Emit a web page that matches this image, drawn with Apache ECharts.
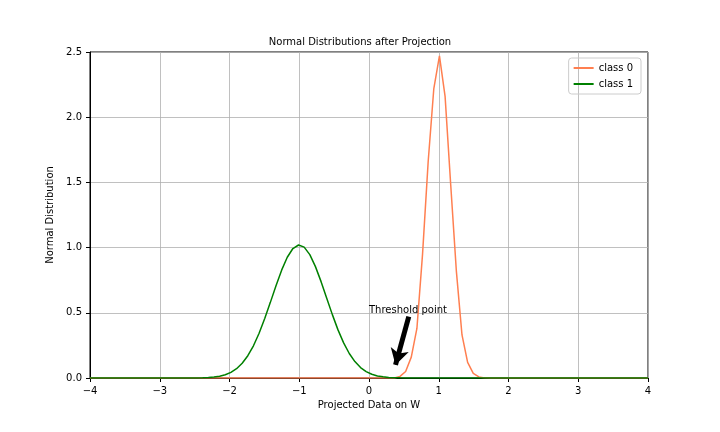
<!DOCTYPE html>
<html><head><meta charset="utf-8">
<script src="https://cdn.jsdelivr.net/npm/echarts@6/dist/echarts.min.js"></script>
<style>body{margin:0}#c{width:720px;height:432px}</style></head>
<body><div id="c"></div>
<script>
const N = 100, xMin = -4, xMax = 4;
// class 0 values at sample indices 55..70 (others ~0)
const class0Start = 55;
const class0Vals = [0.012,0.05,0.16,0.38,0.95,1.66,2.22,2.47,2.16,1.48,0.82,0.33,0.12,0.035,0.008,0.001];
// class 1 values at sample indices 17..56 (others ~0)
const class1Start = 17;
const class1Vals = [0.0002,0.0004,0.0009,0.0019,0.0038,0.0075,0.014,0.025,0.043,0.071,0.113,0.171,0.247,0.343,0.456,0.580,0.708,0.827,0.926,0.993,1.02,1.004,0.946,0.854,0.739,0.612,0.486,0.369,0.269,0.188,0.126,0.080,0.049,0.029,0.016,0.0088,0.0045,0.0022,0.001,0.0005];
const seriesNames = ['class 0','class 1'];
const annText = 'Threshold point';
const annTextAt = [0, 0.52];
const arrowFrom = [0.57, 0.47];
const arrowTo = [0.38, 0.1];

const xs = []; for (let i=0;i<N;i++) xs.push(xMin + (xMax-xMin)*i/(N-1));
function build(start, vals){ return xs.map((x,i)=>{const j=i-start; return [x, (j>=0&&j<vals.length)?vals[j]:0];}); }
const d0 = build(class0Start, class0Vals), d1 = build(class1Start, class1Vals);

const chart = echarts.init(document.getElementById('c'));
const font = 'DejaVu Sans';
function axisCommon(fmt){ return {axisLine:{onZero:false,lineStyle:{color:'#000'}},axisTick:{inside:false,length:4,lineStyle:{color:'#000'}},
  axisLabel:{color:'#000',fontSize:10,fontFamily:font,formatter:fmt},splitLine:{show:true,lineStyle:{color:'#b0b0b0',width:0.8}},
  nameTextStyle:{color:'#000',fontSize:10,fontFamily:font}}; }
chart.setOption({
  animation:false,
  title:{text:'Normal Distributions after Projection',left:'center',top:32,textStyle:{fontSize:10,fontWeight:'normal',color:'#000',fontFamily:font}},
  legend:{right:79,top:58,orient:'vertical',itemWidth:20,itemHeight:2,itemGap:6,padding:[5,8,5,5],
    borderColor:'#ccc',borderWidth:1,borderRadius:3,textStyle:{fontSize:10,color:'#000',fontFamily:font},
    data:seriesNames.map(n=>({name:n,icon:'rect'}))},
  grid:{left:90,right:72,top:52,bottom:54,show:true,borderColor:'#000',borderWidth:1},
  xAxis:Object.assign({type:'value',min:xMin,max:xMax,interval:1,name:'Projected Data on W',nameLocation:'middle',nameGap:20},
    axisCommon(v=>String(v).replace('-','\u2212'))),
  yAxis:Object.assign({type:'value',min:0,max:2.5,interval:0.5,name:'Normal Distribution',nameLocation:'middle',nameGap:30},
    axisCommon(v=>v.toFixed(1))),
  series:[
    {name:seriesNames[0],type:'line',data:d0,showSymbol:false,lineStyle:{color:'#ff7f50',width:1.5},itemStyle:{color:'#ff7f50'},z:3},
    {name:seriesNames[1],type:'line',data:d1,showSymbol:false,lineStyle:{color:'#008000',width:1.5},itemStyle:{color:'#008000'},z:4,
     markPoint:{symbol:'circle',symbolSize:0,data:[{coord:annTextAt}],label:{show:true,formatter:annText,position:'right',distance:0,color:'#000',fontSize:10,fontFamily:font}},
     markLine:{silent:true,symbol:['none','arrow'],symbolSize:[14,16],lineStyle:{color:'#000',width:5,type:'solid'},label:{show:false},
       data:[[{coord:arrowFrom},{coord:arrowTo}]]}}
  ]
});
</script></body></html>
